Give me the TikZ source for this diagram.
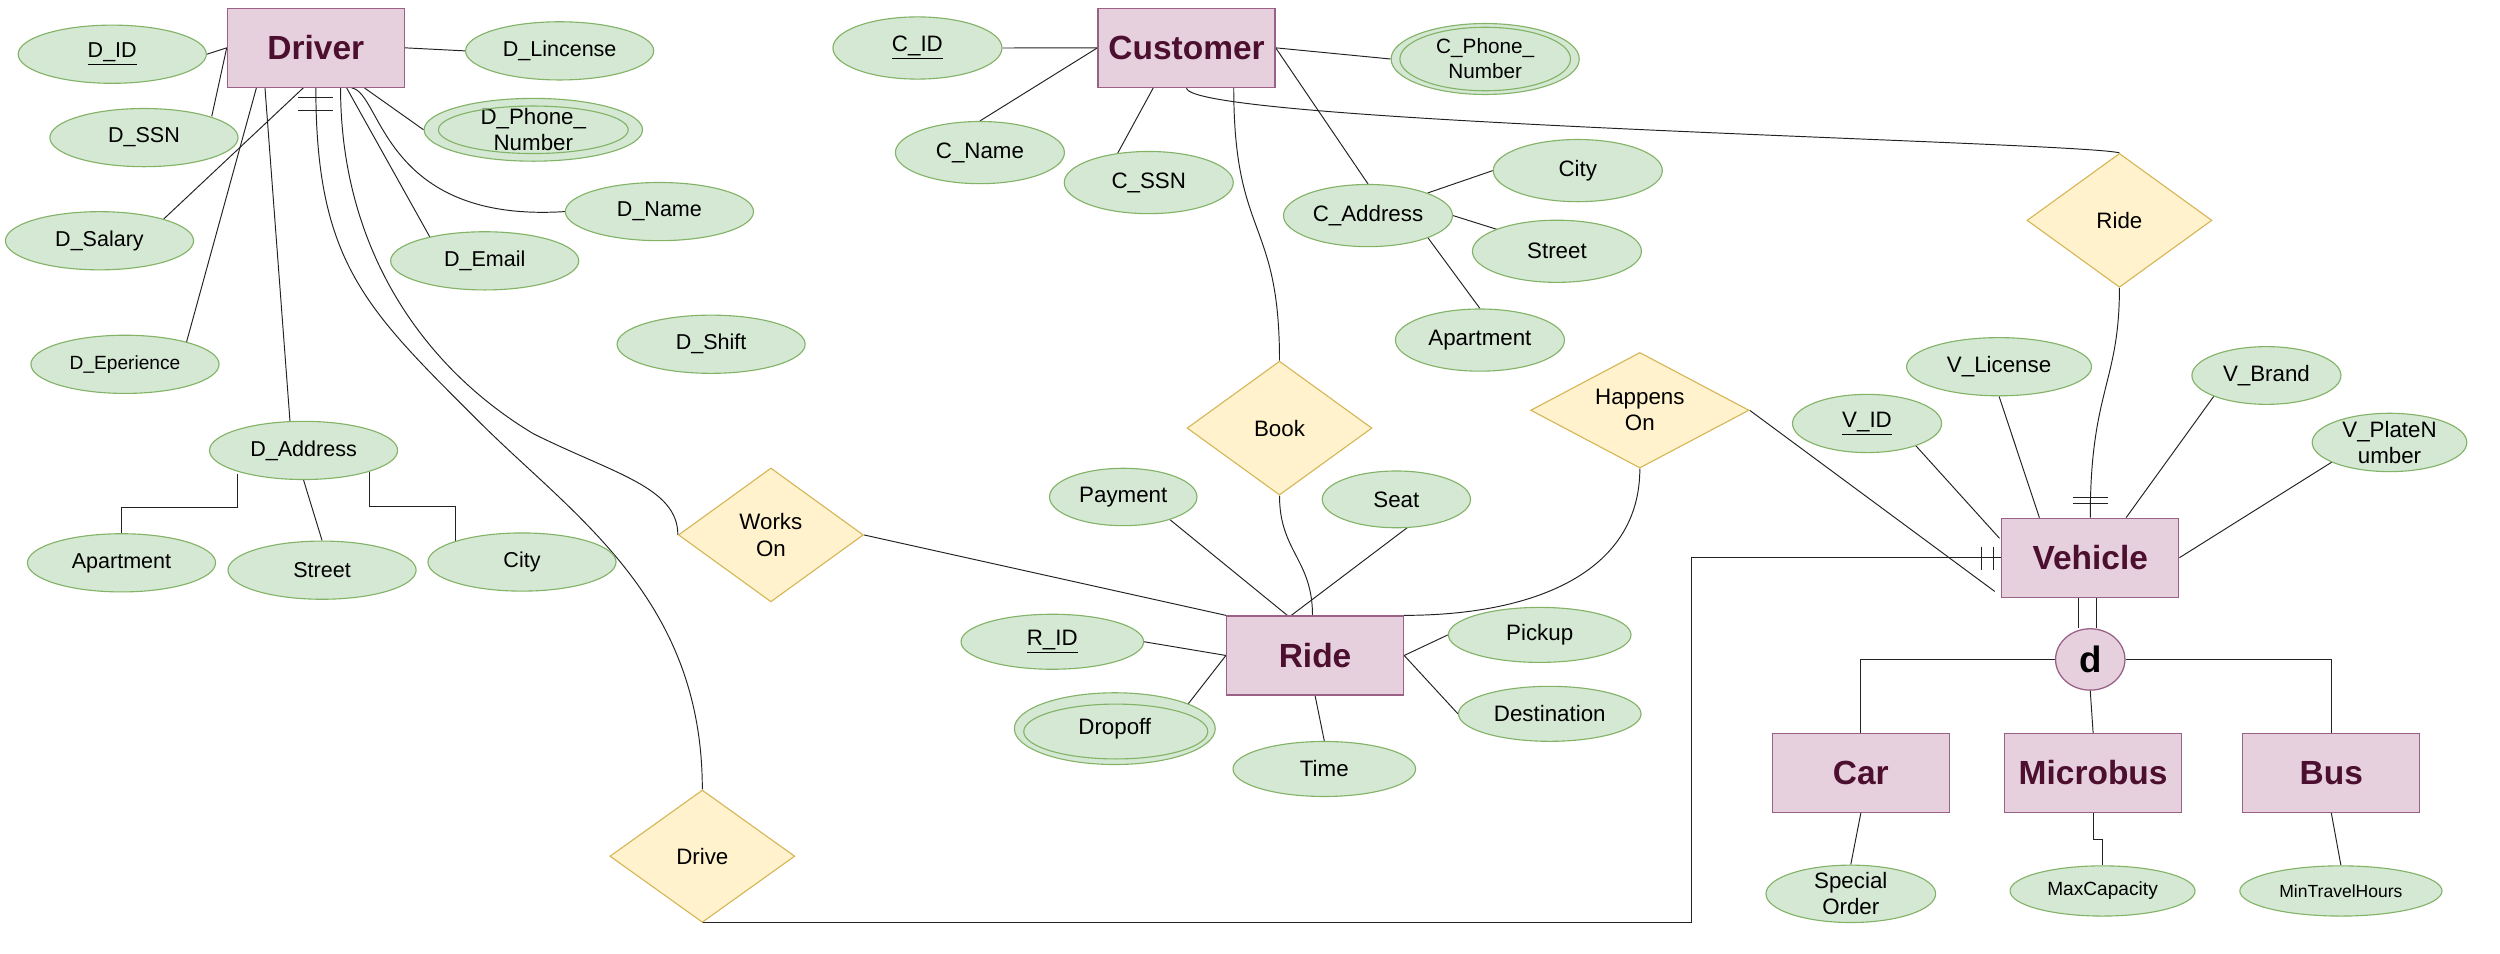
\documentclass[tikz,border=0pt]{standalone}
\usepackage{fontspec}
\setmainfont{Liberation Sans}
\usetikzlibrary{shapes.geometric,calc,backgrounds}
\definecolor{entfill}{HTML}{E6D0DE}
\definecolor{entdraw}{HTML}{996185}
\definecolor{enttext}{HTML}{4C0F30}
\definecolor{attrfill}{HTML}{D5E8D4}
\definecolor{attrdraw}{HTML}{82B366}
\definecolor{relfill}{HTML}{FFF2CC}
\definecolor{reldraw}{HTML}{D6B656}
\definecolor{linec}{HTML}{222222}
\begin{document}
\begin{tikzpicture}[x=1pt,y=-1pt,
  ent/.style={rectangle,draw=entdraw,fill=entfill,line width=0.8pt,minimum width=111pt,minimum height=49.5pt,inner sep=0pt,text=enttext,font=\bfseries\fontsize{21}{24}\selectfont},
  attr/.style={ellipse,draw=attrdraw,fill=attrfill,line width=0.7pt,inner xsep=0pt,inner ysep=-8pt,align=center,font=\fontsize{14}{16.5}\selectfont},
  dattr/.style={attr,minimum width=118pt,minimum height=36.5pt,font=\fontsize{13.5}{16.5}\selectfont},
  cattr/.style={attr,minimum width=106pt,minimum height=39pt},
  rattr/.style={attr,minimum width=114.5pt,minimum height=34.5pt},
  rel/.style={diamond,draw=reldraw,fill=relfill,line width=0.7pt,inner sep=-6pt,align=center,minimum width=116pt,minimum height=84pt,font=\fontsize{14}{16.5}\selectfont},
  innerell/.style={draw=attrdraw,line width=0.7pt},
  conn/.style={draw=linec,line width=0.6pt}
]
\useasboundingbox (0,0) rectangle (1568,598);

% entities
\node[ent] (driver) at (198.1,30) {Driver};
\node[ent] (cust) at (744.2,30) {Customer};
\node[ent] (ride) at (824.8,411.1) {Ride};
\node[ent] (veh) at (1311,349.8) {Vehicle};
\node[ent] (car) at (1167.1,484.8) {Car};
\node[ent] (micro) at (1312.8,484.8) {Microbus};
\node[ent] (bus) at (1462.2,484.8) {Bus};
\node[ellipse,draw=entdraw,fill=entfill,line width=0.8pt,minimum width=43.5pt,minimum height=38.5pt,inner sep=0pt,font=\bfseries\fontsize{23}{26}\selectfont] (dnode) at (1311,413.6) {d};

% driver attributes
\node[dattr] (did) at (70.4,34) {\underline{D\_ID}};
\node[dattr] (dlic) at (351,31.9) {D\_Lincense};
\node[dattr] (dssn) at (90.3,86.3) {D\_SSN};
\node[dattr,minimum width=137pt,minimum height=39.4pt,font=\fontsize{14}{16.5}\selectfont] (dphone) at (334.5,81.4) {D\_Phone\_\\Number};
\node[dattr] (dname) at (413.6,132.7) {D\_Name};
\node[dattr] (dsal) at (62.4,151) {D\_Salary};
\node[dattr] (demail) at (304,163.6) {D\_Email};
\node[dattr] (dshift) at (446,215.9) {D\_Shift};
\node[dattr,font=\fontsize{12}{14}\selectfont] (dexp) at (78.4,228.5) {D\_Eperience};
\node[dattr] (daddr) at (190.4,282.5) {D\_Address};
\node[dattr] (dapt) at (76.2,353) {Apartment};
\node[dattr] (dstreet) at (202,357.6) {Street};
\node[dattr] (dcity) at (327.4,352.5) {City};

% customer attributes
\node[cattr] (cid) at (575.4,30.1) {\underline{C\_ID}};
\node[cattr] (cname) at (614.6,95.7) {C\_Name};
\node[cattr] (cssn) at (720.5,114.5) {C\_SSN};
\node[attr,minimum width=118pt,minimum height=44.5pt,font=\fontsize{13}{15.7}\selectfont] (cphone) at (931.5,37) {C\_Phone\_\\Number};
\node[cattr] (caddr) at (858,135.2) {C\_Address};
\node[cattr] (ccity) at (989.6,107) {City};
\node[cattr] (cstreet) at (976.5,157.6) {Street};
\node[cattr] (capt) at (928.2,213.3) {Apartment};

% ride attributes
\node[attr,minimum width=92.5pt,minimum height=36pt] (pay) at (704.5,311.7) {Payment};
\node[attr,minimum width=93pt,minimum height=35.6pt] (seat) at (875.8,313.2) {Seat};
\node[rattr] (rid) at (660,402.5) {\underline{R\_ID}};
\node[rattr] (pick) at (965.7,398.2) {Pickup};
\node[rattr] (dest) at (972,447.7) {Destination};
\node[rattr] (time) at (830.6,482.3) {Time};
\node[attr,minimum width=126pt,minimum height=45pt] (drop) at (699.2,457) {Dropoff};

% vehicle attributes
\node[attr,minimum width=93.5pt,minimum height=36.5pt] (vid) at (1171,265.6) {\underline{V\_ID}};
\node[attr,minimum width=116pt,minimum height=36.5pt] (vlic) at (1253.8,230) {V\_License};
\node[attr,minimum width=93.5pt,minimum height=36.2pt] (vbrand) at (1421.5,235.5) {V\_Brand};
\node[attr,minimum width=97pt,minimum height=36.6pt] (vplate) at (1498.7,277.5) {V\_PlateN\\umber};
\node[attr,minimum width=106.4pt,minimum height=36pt] (sorder) at (1160.8,560.6) {Special\\Order};
\node[attr,minimum width=116pt,minimum height=31.5pt,font=\fontsize{12}{14}\selectfont] (maxcap) at (1318.7,558.8) {MaxCapacity};
\node[attr,minimum width=126.8pt,minimum height=31.5pt,font=\fontsize{11}{13}\selectfont] (mint) at (1468.2,558.8) {MinTravelHours};

% relationships
\node[rel] (rideR) at (1329.3,138.2) {Ride};
\node[rel] (book) at (802.5,268.5) {Book};
\node[rel,minimum width=137pt,minimum height=72.5pt] (happ) at (1028.5,257.3) {Happens\\On};
\node[rel] (works) at (483.5,335.5) {Works\\On};
\node[rel,minimum height=83pt] (drive) at (440.5,537) {Drive};

% bend points of the two long driver connectors
\coordinate (drvmid) at (300,264);
\coordinate (wrkmid) at (334.5,272);

% inner ellipses of multivalued attributes
\draw[innerell] (dphone.center) ellipse [x radius=59.5pt, y radius=14.9pt];
\draw[innerell] (cphone.center) ellipse [x radius=53.5pt, y radius=19.9pt];
\draw[innerell] ($(drop.center)+(0.6,1.8)$) ellipse [x radius=57.7pt, y radius=17.2pt];

\begin{pgfonlayer}{background}
\fill[white] (0,0) rectangle (1568,598);
% driver
\path[conn] (did.east) -- (driver.west);
\path[conn] ($(dssn.center)+(42.5,-13.3)$) -- (driver.west);
\path[conn] ($(dsal.center)+(39.6,-13)$) -- ($(driver.south west)+(48,0)$);
\path[conn] ($(dexp.center)+(38.6,-14)$) -- ($(driver.south west)+(18.6,0)$);
\path[conn] ($(driver.south west)+(24,0)$) -- ($(daddr.center)+(-8.5,-18)$);
\path[conn] (driver.south) .. controls +(0,110) and +(-70,-70) .. (drvmid)
            .. controls +(60,60) and +(0,-120) .. (drive.north);
\path[conn] ($(driver.south)+(-11,6.2)$) -- +(21.5,0);
\path[conn] ($(driver.south)+(-11,14.2)$) -- +(21.5,0);
\path[conn] ($(driver.south west)+(71.4,0)$) .. controls +(0,100) and +(-70,-42) .. (wrkmid)
            .. controls +(50,25) and +(0,-30) .. (works.west);
\path[conn] ($(driver.south west)+(75.2,0)$) -- ($(demail.center)+(-34.3,-14.8)$);
\path[conn] ($(driver.south west)+(78.4,0)$) .. controls +(19,3) and +(-114.6,7.3) .. (dname.west);
\path[conn] ($(driver.south west)+(86.4,0)$) -- (dphone.west);
\path[conn] (driver.east) -- (dlic.west);
\path[conn] ($(daddr.center)+(-41.6,14.5)$) -- ++(0,21.3) -| (dapt.north);
\path[conn] ($(daddr.center)+(41.6,13.3)$) -- ++(0,21.8) -| ($(dcity.center)+(-41.6,-13)$);
\path[conn] (daddr.south) -- (dstreet.north);
% customer
\path[conn] (cid.east) -- (cust.west);
\path[conn] (cname.north) -- (cust.west);
\path[conn] ($(cssn.center)+(-20,-17.5)$) -- ($(cust.south west)+(35,0)$);
\path[conn] ($(cust.south west)+(85.5,0)$) .. controls +(0,95) and +(0,-90) .. (book.north);
\path[conn] (cust.east) -- (caddr.north);
\path[conn] (cust.east) -- (cphone.west);
\path[conn] (cust.south) .. controls +(0,22) and +(-29,-7) .. (rideR.north);
\path[conn] ($(caddr.center)+(37.5,-14.2)$) -- (ccity.west);
\path[conn] (caddr.east) -- ($(cstreet.center)+(-37.5,-13.7)$);
\path[conn] ($(caddr.center)+(37.5,13.8)$) -- (capt.north);
% ride
\path[conn] (works.east) -- (ride.north west);
\path[conn] ($(pay.center)+(29,14)$) -- ($(ride.north west)+(38.5,0)$);
\path[conn] ($(seat.center)+(7,17.6)$) -- ($(ride.north west)+(41,0)$);
\path[conn] (book.south) .. controls +(0,35) and +(0,-35) .. ($(ride.north west)+(54.3,0)$);
\path[conn] (happ.south) .. controls +(0,66) and +(80,0) .. (ride.north east);
\path[conn] (rid.east) -- (ride.west);
\path[conn] ($(drop.center)+(46,-15.5)$) -- (ride.west);
\path[conn] (ride.east) -- (pick.west);
\path[conn] (ride.east) -- (dest.west);
\path[conn] (ride.south) -- (time.north);
% vehicle
\path[conn] (rideR.south) .. controls +(0,60) and +(0,-80) .. (veh.north);
\path[conn] ($(veh.north)+(-11,-12.5)$) -- +(22,0);
\path[conn] ($(veh.north)+(-11,-9)$) -- +(22,0);
\path[conn] ($(vid.center)+(30,13.3)$) -- ($(veh.north west)+(-1,13)$);
\path[conn] (vlic.south) -- ($(veh.north west)+(24,0)$);
\path[conn] ($(vbrand.center)+(-33,13)$) -- ($(veh.north west)+(78.4,0)$);
\path[conn] ($(vplate.center)+(-36,12.2)$) -- (veh.east);
\path[conn] (happ.east) -- ($(veh.south west)+(-4,-4)$);
\path[conn] (drive.south) -| ($(veh.west)+(-194,0)$) -- (veh.west);
\path[conn] ($(veh.west)+(-12.3,-7)$) -- +(0,14.5);
\path[conn] ($(veh.west)+(-5,-7)$) -- +(0,14.5);
\path[conn] ($(veh.south)+(-7.3,0)$) -- ($(dnode.north)+(-7.3,0)$);
\path[conn] ($(veh.south)+(3.6,0)$) -- ($(dnode.north)+(3.6,0)$);
\path[conn] (dnode.west) -| (car.north);
\path[conn] (dnode.east) -| (bus.north);
\path[conn] (dnode.south) -- (micro.north);
\path[conn] (car.south) -- (sorder.north);
\path[conn] (micro.south) -- ++(0,16.5) -| (maxcap.north);
\path[conn] (bus.south) -- (mint.north);
\end{pgfonlayer}
\end{tikzpicture}
\end{document}
